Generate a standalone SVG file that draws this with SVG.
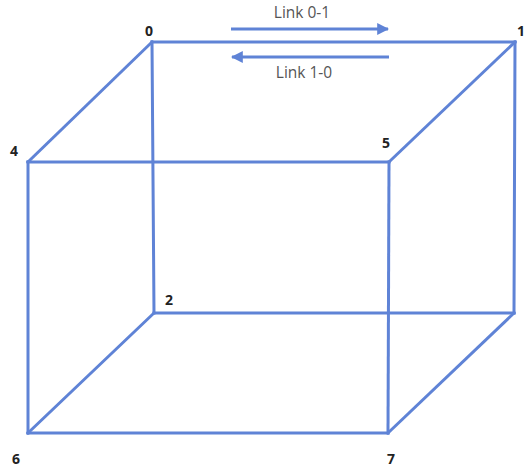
<svg xmlns="http://www.w3.org/2000/svg" width="527" height="468" viewBox="0 0 527 468">
<defs>
<style>
.e{stroke:#5f83d6;stroke-width:3;fill:none;stroke-linecap:square}
.a{stroke:#5f83d6;stroke-width:3;fill:none}
.n{font-family:"Open Sans","DejaVu Sans",sans-serif;font-weight:bold;font-size:14px;fill:#222}
.l{font-family:"Open Sans","DejaVu Sans",sans-serif;font-size:15.5px;fill:#555}
</style>
<marker id="ah" viewBox="0 0 10 10" refX="9" refY="5" markerWidth="4" markerHeight="4" orient="auto" markerUnits="strokeWidth">
<path d="M0,0 L10,5 L0,10 z" fill="#5f83d6"/>
</marker>
</defs>
<rect width="527" height="468" fill="#fff"/>
<g id="connectors">
<line class="e" x1="152" y1="42" x2="515" y2="42"/>
<line class="e" x1="28" y1="162" x2="389" y2="162"/>
<line class="e" x1="154" y1="313" x2="514" y2="313"/>
<line class="e" x1="28" y1="433" x2="388" y2="433"/>
<line class="e" x1="152" y1="42" x2="154" y2="313"/>
<line class="e" x1="515" y1="42" x2="514" y2="313"/>
<line class="e" x1="28" y1="162" x2="28" y2="433"/>
<line class="e" x1="389" y1="162" x2="388" y2="433"/>
<line class="e" x1="152" y1="42" x2="28" y2="162"/>
<line class="e" x1="515" y1="42" x2="389" y2="162"/>
<line class="e" x1="154" y1="313" x2="28" y2="433"/>
<line class="e" x1="514" y1="313" x2="388" y2="433"/>
<g id="link01">
<line class="a" x1="231" y1="29" x2="388" y2="29" marker-end="url(#ah)"/>
<text class="l" x="302" y="18" text-anchor="middle">Link 0-1</text>
</g>
<g id="link10">
<line class="a" x1="389" y1="57" x2="232" y2="57" marker-end="url(#ah)"/>
<text class="l" x="304" y="78" text-anchor="middle">Link 1-0</text>
</g>
</g>
<g id="node0"><text class="n" x="145" y="36">0</text></g>
<g id="node1"><text class="n" x="517" y="36">1</text></g>
<g id="node2"><text class="n" x="165" y="305">2</text></g>
<g id="node4"><text class="n" x="10" y="156">4</text></g>
<g id="node5"><text class="n" x="382" y="148">5</text></g>
<g id="node6"><text class="n" x="12" y="464">6</text></g>
<g id="node7"><text class="n" x="387" y="464">7</text></g>
</svg>
